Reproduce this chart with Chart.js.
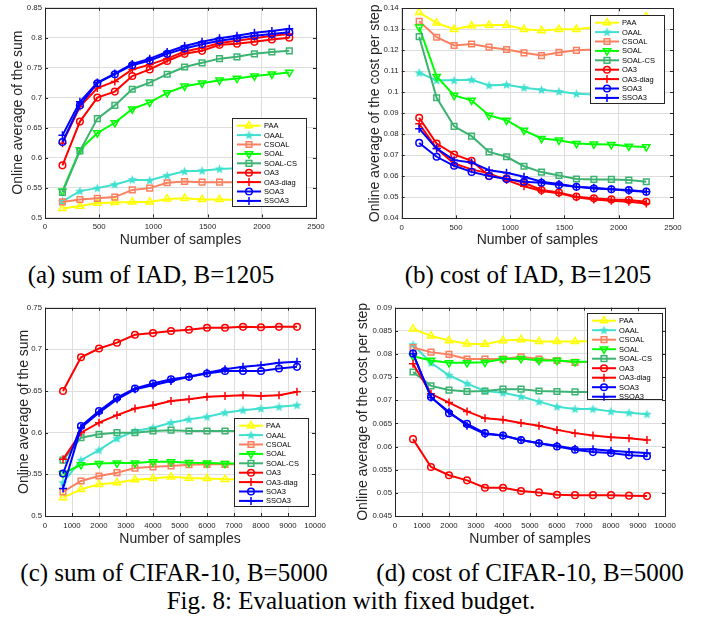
<!DOCTYPE html>
<html>
<head>
<meta charset="utf-8">
<script src="https://cdn.jsdelivr.net/npm/chart.js@4.4.0/dist/chart.umd.min.js"></script>
<style>
  body { margin: 0; background: #fff; }
  #page { position: relative; width: 702px; height: 622px; overflow: hidden; background: #fff; }
  #page canvas { position: absolute; }
  .cap {
    position: absolute;
    transform: translateX(-50%);
    white-space: nowrap;
    font: 25px 'Liberation Serif', 'DejaVu Serif', serif;
    line-height: 25px;
    color: #000;
  }
</style>
</head>
<body>
<div id="page">
  <canvas id="sumIAD" width="345" height="256" style="left:0;top:0;width:345px;height:256px"></canvas>
  <canvas id="costIAD" width="352" height="256" style="left:350px;top:0;width:352px;height:256px"></canvas>
  <canvas id="sumCIFAR" width="345" height="256" style="left:0;top:300px;width:345px;height:256px"></canvas>
  <canvas id="costCIFAR" width="352" height="256" style="left:350px;top:300px;width:352px;height:256px"></canvas>

  <div class="cap" style="left:151px;top:262px">(a) sum of IAD, B=1205</div>
  <div class="cap" style="left:528px;top:262px">(b) cost of IAD, B=1205</div>
  <div class="cap" style="left:174px;top:560px">(c) sum of CIFAR-10, B=5000</div>
  <div class="cap" style="left:530px;top:560px">(d) cost of CIFAR-10, B=5000</div>
  <div class="cap" style="left:351px;top:588px">Fig. 8: Evaluation with fixed budget.</div>
</div>

<script>
// number of samples seen at each evaluation point
const iadSamples = [161, 322, 483, 644, 805, 966, 1127, 1288, 1449, 1610, 1771, 1932, 2093, 2254];
const cifarSamples = [667, 1333, 2000, 2667, 3333, 4000, 4667, 5333, 6000, 6667, 7333, 8000, 8667, 9333];

// tick labels
const iadXTicks = ['0', '500', '1000', '1500', '2000', '2500'];
const cifarXTicks = ['0', '1000', '2000', '3000', '4000', '5000', '6000', '7000', '8000', '9000', '10000'];
const sumIADYTicks = ['0.5', '0.55', '0.6', '0.65', '0.7', '0.75', '0.8', '0.85'];
const costIADYTicks = ['0.04', '0.05', '0.06', '0.07', '0.08', '0.09', '0.1', '0.11', '0.12', '0.13', '0.14'];
const sumCIFARYTicks = ['0.5', '0.55', '0.6', '0.65', '0.7', '0.75'];
const costCIFARYTicks = ['0.045', '0.05', '0.055', '0.06', '0.065', '0.07', '0.075', '0.08', '0.085', '0.09'];

const methods = ['PAA', 'OAAL', 'CSOAL', 'SOAL', 'SOAL-CS', 'OA3', 'OA3-diag', 'SOA3', 'SSOA3'];

// (a) IAD, online average of the sum
const sumIAD_PAA     = [0.515, 0.519, 0.524, 0.525, 0.526, 0.526, 0.531, 0.532, 0.530, 0.530, 0.529, 0.530, 0.530, 0.531];
const sumIAD_OAAL    = [0.527, 0.544, 0.549, 0.555, 0.563, 0.562, 0.570, 0.577, 0.578, 0.581, 0.582, 0.583, 0.584, 0.585];
const sumIAD_CSOAL   = [0.526, 0.530, 0.532, 0.534, 0.546, 0.549, 0.558, 0.560, 0.559, 0.559, 0.559, 0.560, 0.561, 0.562];
const sumIAD_SOAL    = [0.544, 0.613, 0.641, 0.658, 0.681, 0.692, 0.708, 0.719, 0.724, 0.729, 0.732, 0.736, 0.739, 0.742];
const sumIAD_SOALCS  = [0.542, 0.611, 0.665, 0.687, 0.714, 0.725, 0.739, 0.751, 0.758, 0.765, 0.768, 0.773, 0.776, 0.778];
const sumIAD_OA3     = [0.587, 0.660, 0.700, 0.710, 0.736, 0.747, 0.761, 0.773, 0.778, 0.788, 0.790, 0.793, 0.797, 0.800];
const sumIAD_OA3diag = [0.624, 0.685, 0.716, 0.727, 0.747, 0.755, 0.765, 0.777, 0.783, 0.791, 0.795, 0.799, 0.803, 0.806];
const sumIAD_SOA3    = [0.626, 0.687, 0.724, 0.739, 0.754, 0.762, 0.773, 0.782, 0.789, 0.795, 0.799, 0.803, 0.806, 0.809];
const sumIAD_SSOA3   = [0.637, 0.693, 0.725, 0.740, 0.756, 0.765, 0.776, 0.786, 0.793, 0.799, 0.803, 0.808, 0.811, 0.815];

// (b) IAD, online average of the cost per step
const costIAD_PAA     = [0.1380, 0.1330, 0.1300, 0.1317, 0.1320, 0.1320, 0.1300, 0.1294, 0.1300, 0.1300, 0.1310, 0.1320, 0.1340, 0.1360];
const costIAD_OAAL    = [0.1093, 0.1057, 0.1057, 0.1060, 0.1033, 0.1036, 0.1022, 0.1012, 0.1004, 0.0993, 0.0990, 0.0985, 0.0980, 0.0975];
const costIAD_CSOAL   = [0.1338, 0.1262, 0.1223, 0.1230, 0.1215, 0.1204, 0.1188, 0.1175, 0.1190, 0.1200, 0.1204, 0.1210, 0.1220, 0.1230];
const costIAD_SOAL    = [0.1310, 0.1075, 0.0985, 0.0962, 0.0890, 0.0867, 0.0819, 0.0780, 0.0772, 0.0756, 0.0753, 0.0751, 0.0743, 0.0740];
const costIAD_SOALCS  = [0.1265, 0.0974, 0.0838, 0.0791, 0.0716, 0.0693, 0.0648, 0.0620, 0.0604, 0.0587, 0.0585, 0.0585, 0.0582, 0.0574];
const costIAD_OA3     = [0.0879, 0.0756, 0.0704, 0.0674, 0.0602, 0.0590, 0.0569, 0.0535, 0.0523, 0.0503, 0.0495, 0.0490, 0.0487, 0.0479];
const costIAD_OA3diag = [0.0850, 0.0732, 0.0661, 0.0633, 0.0614, 0.0582, 0.0553, 0.0530, 0.0519, 0.0500, 0.0490, 0.0484, 0.0479, 0.0471];
const costIAD_SOA3    = [0.0759, 0.0693, 0.0650, 0.0621, 0.0601, 0.0587, 0.0574, 0.0569, 0.0558, 0.0550, 0.0542, 0.0538, 0.0535, 0.0527];
const costIAD_SSOA3   = [0.0827, 0.0732, 0.0677, 0.0666, 0.0629, 0.0617, 0.0598, 0.0574, 0.0563, 0.0550, 0.0546, 0.0538, 0.0531, 0.0527];

// (c) CIFAR-10, online average of the sum
const sumCIFAR_PAA     = [0.522, 0.532, 0.538, 0.540, 0.5435, 0.545, 0.547, 0.5455, 0.545, 0.544, 0.544, 0.544, 0.544, 0.544];
const sumCIFAR_OAAL    = [0.540, 0.567, 0.579, 0.593, 0.602, 0.606, 0.612, 0.616, 0.619, 0.624, 0.627, 0.629, 0.631, 0.633];
const sumCIFAR_CSOAL   = [0.529, 0.542, 0.548, 0.552, 0.5575, 0.559, 0.560, 0.5615, 0.562, 0.562, 0.562, 0.563, 0.563, 0.563];
const sumCIFAR_SOAL    = [0.551, 0.5615, 0.563, 0.5635, 0.5635, 0.565, 0.565, 0.564, 0.5635, 0.563, 0.563, 0.563, 0.563, 0.563];
const sumCIFAR_SOALCS  = [0.567, 0.594, 0.598, 0.600, 0.600, 0.602, 0.603, 0.602, 0.602, 0.602, 0.602, 0.602, 0.602, 0.602];
const sumCIFAR_OA3     = [0.650, 0.6905, 0.701, 0.708, 0.7175, 0.7195, 0.722, 0.7235, 0.726, 0.726, 0.727, 0.7265, 0.727, 0.727];
const sumCIFAR_OA3diag = [0.568, 0.600, 0.612, 0.621, 0.629, 0.633, 0.638, 0.640, 0.643, 0.644, 0.645, 0.644, 0.645, 0.649];
const sumCIFAR_SOA3    = [0.551, 0.608, 0.626, 0.642, 0.653, 0.659, 0.664, 0.667, 0.671, 0.674, 0.674, 0.674, 0.677, 0.679];
const sumCIFAR_SSOA3   = [0.533, 0.606, 0.624, 0.640, 0.652, 0.657, 0.662, 0.667, 0.672, 0.676, 0.679, 0.681, 0.684, 0.685];

// (d) CIFAR-10, online average of the cost per step
const costCIFAR_PAA     = [0.0854, 0.0839, 0.0829, 0.0822, 0.0821, 0.0829, 0.0831, 0.0827, 0.0827, 0.0827, 0.0828, 0.0830, 0.0830, 0.0831];
const costCIFAR_OAAL    = [0.0820, 0.0781, 0.0754, 0.0736, 0.0720, 0.0716, 0.0708, 0.0697, 0.0686, 0.0681, 0.0681, 0.0676, 0.0673, 0.0670];
const costCIFAR_CSOAL   = [0.0814, 0.0804, 0.0799, 0.0789, 0.0789, 0.0789, 0.0794, 0.0789, 0.0786, 0.0782, 0.0783, 0.0784, 0.0785, 0.0785];
const costCIFAR_SOAL    = [0.0795, 0.0786, 0.0781, 0.0781, 0.0782, 0.0789, 0.0790, 0.0786, 0.0786, 0.0783, 0.0783, 0.0783, 0.0783, 0.0783];
const costCIFAR_SOALCS  = [0.0761, 0.0731, 0.0722, 0.0719, 0.0720, 0.0724, 0.0724, 0.0720, 0.0719, 0.0718, 0.0718, 0.0718, 0.0718, 0.0718];
const costCIFAR_OA3     = [0.0616, 0.0556, 0.0538, 0.0527, 0.0511, 0.0511, 0.0504, 0.0501, 0.0496, 0.0495, 0.0495, 0.0495, 0.0494, 0.0493];
const costCIFAR_OA3diag = [0.0779, 0.0714, 0.0695, 0.0676, 0.0661, 0.0658, 0.0651, 0.0645, 0.0636, 0.0629, 0.0624, 0.0620, 0.0618, 0.0614];
const costCIFAR_SOA3    = [0.0801, 0.0707, 0.0672, 0.0649, 0.0629, 0.0624, 0.0614, 0.0607, 0.0600, 0.0593, 0.0588, 0.0586, 0.0581, 0.0579];
const costCIFAR_SSOA3   = [0.0801, 0.0706, 0.0675, 0.0645, 0.0627, 0.0624, 0.0614, 0.0607, 0.0602, 0.0595, 0.0594, 0.0591, 0.0588, 0.0586];

// five-pointed star marker for OAAL
function makeStar(color) {
  const c = document.createElement('canvas');
  c.width = 11; c.height = 11;
  const g = c.getContext('2d');
  g.beginPath();
  for (let k = 0; k < 10; k++) {
    const r = k % 2 ? 2.1 : 5;
    const a = -Math.PI / 2 + k * Math.PI / 5;
    const px = 5.5 + r * Math.cos(a), py = 5.8 + r * Math.sin(a);
    k ? g.lineTo(px, py) : g.moveTo(px, py);
  }
  g.closePath();
  g.fillStyle = color;
  g.fill();
  return c;
}

const methodStyles = [
  { color: '#ffff00', marker: 'triangle', radius: 4.2 },
  { color: '#40e0d0', marker: makeStar('#40e0d0'), radius: 4, fill: true },
  { color: '#fa8060', marker: 'rect', radius: 4 },
  { color: '#00ff00', marker: 'triangle', radius: 4.2, rotation: 180 },
  { color: '#3cb371', marker: 'rect', radius: 4 },
  { color: '#ff0000', marker: 'circle', radius: 3.3 },
  { color: '#ff0000', marker: 'cross', radius: 4 },
  { color: '#0000ff', marker: 'circle', radius: 3.3 },
  { color: '#0000ff', marker: 'cross', radius: 4 }
];

const axisColor = '#262626';
const gridColor = '#dedede';
const tickFont = { family: "'Liberation Sans', Arial, sans-serif", size: 7.8 };
const titleFont = { family: "'Liberation Sans', Arial, sans-serif", size: 14 };

// box around the axes, inward ticks on all four sides, and the boxed legend
const matlabFrame = {
  id: 'matlabFrame',
  afterDraw(chart, args, opts) {
    const { ctx, chartArea: a, scales } = chart;
    ctx.save();
    ctx.strokeStyle = axisColor;
    ctx.lineWidth = 1;
    ctx.beginPath();
    scales.x.ticks.forEach(t => {
      const px = Math.round(scales.x.getPixelForValue(t.value)) + 0.5;
      ctx.moveTo(px, a.bottom); ctx.lineTo(px, a.bottom - 3);
      ctx.moveTo(px, a.top); ctx.lineTo(px, a.top + 3);
    });
    scales.y.ticks.forEach(t => {
      const py = Math.round(scales.y.getPixelForValue(t.value)) + 0.5;
      ctx.moveTo(a.left, py); ctx.lineTo(a.left + 3, py);
      ctx.moveTo(a.right, py); ctx.lineTo(a.right - 3, py);
    });
    ctx.stroke();
    ctx.strokeRect(Math.round(a.left) + 0.5, Math.round(a.top) + 0.5,
      Math.round(a.right - a.left), Math.round(a.bottom - a.top));

    const lg = opts.legend;
    ctx.fillStyle = '#fff';
    ctx.fillRect(lg.x, lg.y, lg.w, lg.h);
    ctx.strokeRect(lg.x + 0.5, lg.y + 0.5, lg.w, lg.h);
    ctx.font = "7.5px 'Liberation Sans', Arial, sans-serif";
    ctx.textBaseline = 'middle';
    chart.data.datasets.forEach((ds, i) => {
      const cy = lg.y + 7.7 + i * lg.row;
      ctx.strokeStyle = ds.borderColor;
      ctx.lineWidth = ds.borderWidth;
      ctx.beginPath();
      ctx.moveTo(lg.x + 5, cy);
      ctx.lineTo(lg.x + 29, cy);
      ctx.stroke();
      ctx.lineWidth = ds.pointBorderWidth;
      ctx.fillStyle = ds.pointBackgroundColor;
      Chart.helpers.drawPoint(ctx, {
        pointStyle: ds.pointStyle,
        radius: ds.pointRadius,
        rotation: ds.pointRotation,
        borderWidth: ds.pointBorderWidth
      }, lg.x + 17, cy);
      ctx.fillStyle = '#000';
      ctx.fillText(ds.label, lg.x + 32, cy + 0.5);
    });
    ctx.restore();
  }
};

function drawPanel(id, samples, series, xTicks, yTicks, yTitle, frame) {
  const datasets = methods.map((name, i) => {
    const st = methodStyles[i];
    return {
      label: name,
      data: samples.map((x, k) => ({ x: x, y: series[i][k] })),
      borderColor: st.color,
      backgroundColor: st.color,
      borderWidth: 2,
      pointStyle: st.marker,
      pointRadius: st.radius,
      pointRotation: st.rotation || 0,
      pointBorderColor: st.color,
      pointBackgroundColor: st.fill ? st.color : 'rgba(255,255,255,0)',
      pointBorderWidth: 1.5,
      tension: 0,
      order: methods.length - i
    };
  });

  const xVals = xTicks.map(Number);
  const yVals = yTicks.map(Number);

  return new Chart(document.getElementById(id), {
    type: 'line',
    data: { datasets: datasets },
    options: {
      responsive: false,
      animation: false,
      devicePixelRatio: 1,
      layout: { padding: { top: frame.top, right: frame.right, left: 0, bottom: 0 } },
      plugins: {
        legend: { display: false },
        tooltip: { enabled: false },
        matlabFrame: { legend: frame.legend }
      },
      scales: {
        x: {
          type: 'linear',
          min: xVals[0],
          max: xVals[xVals.length - 1],
          afterBuildTicks: s => { s.ticks = xVals.map(v => ({ value: v })); },
          afterFit: s => { s.height = frame.xHeight; },
          grid: { color: gridColor, drawTicks: false },
          border: { display: false },
          ticks: {
            autoSkip: false, maxRotation: 0, padding: 5,
            color: axisColor, font: tickFont,
            callback: (v, i) => xTicks[i]
          },
          title: {
            display: true, text: 'Number of samples', color: axisColor,
            font: titleFont, padding: { top: 0, bottom: frame.xTitlePad }
          }
        },
        y: {
          type: 'linear',
          min: yVals[0],
          max: yVals[yVals.length - 1],
          afterBuildTicks: s => { s.ticks = yVals.map(v => ({ value: v })); },
          afterFit: s => { s.width = frame.yWidth; },
          grid: { color: gridColor, drawTicks: false },
          border: { display: false },
          ticks: {
            autoSkip: false, padding: 3,
            color: axisColor, font: tickFont,
            callback: (v, i) => yTicks[i]
          },
          title: {
            display: true, text: yTitle, color: axisColor,
            font: titleFont, padding: { top: frame.yTitlePad, bottom: 0 }
          }
        }
      }
    },
    plugins: [matlabFrame]
  });
}

drawPanel('sumIAD', iadSamples,
  [sumIAD_PAA, sumIAD_OAAL, sumIAD_CSOAL, sumIAD_SOAL, sumIAD_SOALCS, sumIAD_OA3, sumIAD_OA3diag, sumIAD_SOA3, sumIAD_SSOA3],
  iadXTicks, sumIADYTicks, 'Online average of the sum',
  { top: 7, right: 29, yWidth: 45, xHeight: 38.5, xTitlePad: 7.6, yTitlePad: 9.6,
    legend: { x: 232, y: 118, w: 74, h: 88, row: 9.4 } });

drawPanel('costIAD', iadSamples,
  [costIAD_PAA, costIAD_OAAL, costIAD_CSOAL, costIAD_SOAL, costIAD_SOALCS, costIAD_OA3, costIAD_OA3diag, costIAD_SOA3, costIAD_SSOA3],
  iadXTicks, costIADYTicks, 'Online average of the cost per step',
  { top: 8.3, right: 29, yWidth: 51.7, xHeight: 37.7, xTitlePad: 7.6, yTitlePad: 16.6,
    legend: { x: 240, y: 15, w: 74, h: 88, row: 9.4 } });

drawPanel('sumCIFAR', cifarSamples,
  [sumCIFAR_PAA, sumCIFAR_OAAL, sumCIFAR_CSOAL, sumCIFAR_SOAL, sumCIFAR_SOALCS, sumCIFAR_OA3, sumCIFAR_OA3diag, sumCIFAR_SOA3, sumCIFAR_SSOA3],
  cifarXTicks, sumCIFARYTicks, 'Online average of the sum',
  { top: 6, right: 30, yWidth: 45, xHeight: 40, xTitlePad: 8.6, yTitlePad: 15.6,
    legend: { x: 234, y: 118, w: 74, h: 88, row: 9.4 } });

drawPanel('costCIFAR', cifarSamples,
  [costCIFAR_PAA, costCIFAR_OAAL, costCIFAR_CSOAL, costCIFAR_SOAL, costCIFAR_SOALCS, costCIFAR_OA3, costCIFAR_OA3diag, costCIFAR_SOA3, costCIFAR_SSOA3],
  cifarXTicks, costCIFARYTicks, 'Online average of the cost per step',
  { top: 6, right: 37, yWidth: 45, xHeight: 40, xTitlePad: 8.6, yTitlePad: 5,
    legend: { x: 237, y: 13, w: 75, h: 86, row: 9.5 } });
</script>
</body>
</html>
